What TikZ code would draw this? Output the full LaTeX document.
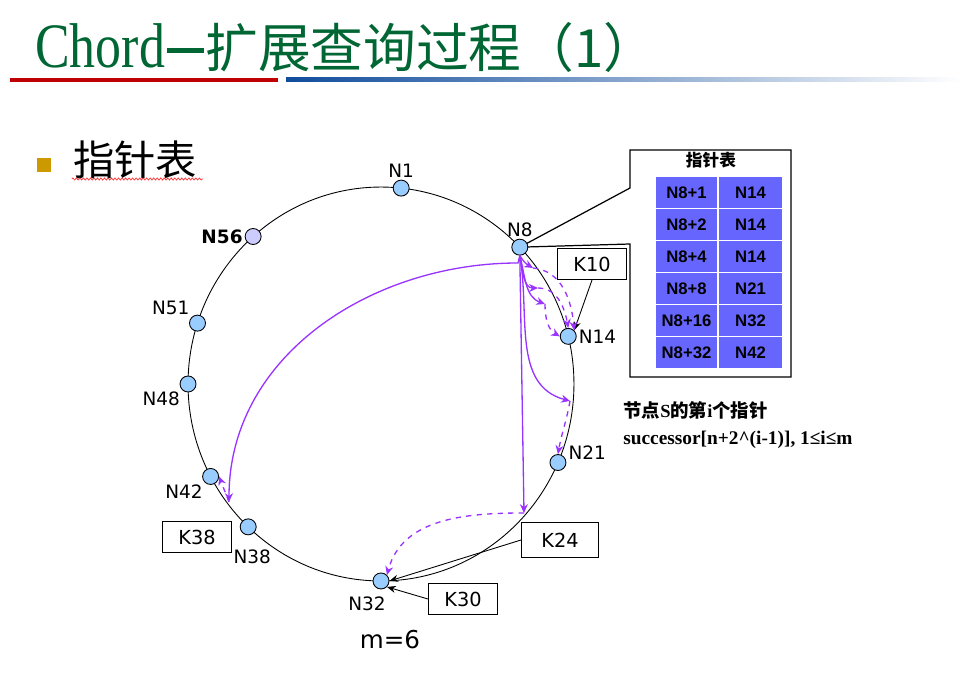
\documentclass[tikz,border=0pt]{standalone}
\usepackage{fontspec}
\usepackage{tikz}
\usetikzlibrary{arrows.meta,calc,backgrounds,decorations.pathmorphing}
\newfontfamily\cjk{Noto Sans CJK SC}
\newfontfamily\lblfont{DejaVu Sans}
\newfontfamily\tblfont{Liberation Sans}
\newfontfamily\serfont{Liberation Serif}
\definecolor{titlegreen}{RGB}{0,102,51}
\definecolor{linered}{RGB}{192,0,0}
\definecolor{lineblue}{RGB}{16,76,156}
\definecolor{bulletgold}{RGB}{204,153,0}
\definecolor{peerblue}{RGB}{153,204,255}
\definecolor{peerlilac}{RGB}{204,204,255}
\definecolor{ptrpurple}{RGB}{153,51,255}
\definecolor{cellblue}{RGB}{102,102,255}
\tikzset{
  peer/.style={circle,draw,fill=peerblue,minimum size=0.32cm,inner sep=0pt,line width=0.5pt},
  lbl/.style={font=\lblfont\fontsize{10.5}{12}\selectfont,inner sep=1pt},
  keybox/.style={draw,line width=0.6pt,minimum width=1.38cm,minimum height=0.62cm,font=\lblfont\fontsize{11}{13}\selectfont},
  ptr/.style={ptrpurple,line width=0.75pt,-{Stealth[length=5pt,width=4.5pt]}},
  keyarrow/.style={line width=0.5pt,-{Stealth[length=5pt,width=4pt]}},
  cell/.style={fill=cellblue,draw=white,line width=0.8pt,minimum height=0.64cm,font=\tblfont\bfseries\fontsize{9.5}{11}\selectfont},
}
\begin{document}
\begin{tikzpicture}[x=0.02cm,y=-0.02cm]
\useasboundingbox (0,0) rectangle (970,685);

% title and rules
\node[anchor=base west,inner sep=0pt,text=titlegreen] (title) at (35,68)
  {\serfont\fontsize{36}{40}\selectfont\scalebox{0.82}[1]{Chord}\hspace{1pt}\rule[8.5pt]{21pt}{3pt}\hspace{1pt}\cjk\fontsize{30}{34}\selectfont 扩展查询过程（1）};
\fill[linered] (10,78) rectangle (278,82);
\shade[left color=lineblue,right color=white] (286,78) rectangle (962,82);

\fill[bulletgold] (37,158) rectangle (51,172);
\node[anchor=west,inner sep=0pt] (head) at (73,160) {\cjk\fontsize{23.5}{26}\selectfont 指针表};
\draw[red!80,line width=0.4pt,decorate,decoration={zigzag,amplitude=0.6pt,segment length=2pt}] (72,179) -- (203,179);

% ring
\coordinate (c) at (381,384);
\draw[line width=0.5pt] (c) ellipse [x radius=3.86cm,y radius=3.94cm];

\node[peer,label={[lbl]above:N1}] (n1) at ($(c)+(84:3.86cm and 3.94cm)$) {};
\node[peer,label={[lbl]above:N8}] (n8) at ($(c)+(44:3.86cm and 3.94cm)$) {};
\node[peer,label={[lbl]right:N14}] (n14) at ($(c)+(14:3.86cm and 3.94cm)$) {};
\node[peer,label={[lbl,yshift=0.2cm]right:N21}] (n21) at ($(c)+(-23.5:3.86cm and 3.94cm)$) {};
\node[peer,label={[lbl,xshift=-0.28cm,yshift=-0.1cm]below:N32}] (n32) at ($(c)+(-90:3.86cm and 3.94cm)$) {};
\node[peer,label={[lbl,xshift=0.08cm,yshift=-0.24cm]below:N38}] (n38) at ($(c)+(-133.5:3.86cm and 3.94cm)$) {};
\node[peer,label={[lbl]below left:N42}] (n42) at ($(c)+(-152:3.86cm and 3.94cm)$) {};
\node[peer,label={[lbl]below left:N48}] (n48) at ($(c)+(180:3.86cm and 3.94cm)$) {};
\node[peer,label={[lbl]above left:N51}] (n51) at ($(c)+(162:3.86cm and 3.94cm)$) {};
\node[peer,fill=peerlilac,label={[lbl,font=\lblfont\bfseries\fontsize{10.5}{12}\selectfont]left:N56}] (n56) at ($(c)+(131.5:3.86cm and 3.94cm)$) {};

% keys
\node[keybox] (k10) at (592,264) {K10};
\node[keybox,minimum width=1.54cm,minimum height=0.7cm] (k24) at (560,540) {K24};
\node[keybox] (k30) at (463,599) {K30};
\node[keybox] (k38) at (197,537) {K38};
\draw[keyarrow] (k10.south) -- (n14.north east);
\draw[keyarrow] (k24.west) -- (n32.east);
\draw[keyarrow] (k30.west) -- (n32.south east);

% finger table
\begin{scope}[on background layer]
\fill[white] (0,0) rectangle (970,685);
\draw[line width=0.7pt] (630,188) -- (630,150) -- (791,150) -- (791,377) -- (630,377) -- (630,244) -- (n8.center) -- cycle;
\end{scope}
\node (ftitle) at (711,160) {\cjk\bfseries\fontsize{9.5}{11}\selectfont 指针表};
\foreach \a/\b [count=\i] in {N8+1/N14,N8+2/N14,N8+4/N14,N8+8/N21,N8+16/N32,N8+32/N42}{
  \node[cell,minimum width=1.26cm] (s\i) at (686.5,{160.5+32*\i}) {\a};
  \node[cell,minimum width=1.30cm] (t\i) at (750.5,{160.5+32*\i}) {\b};
}
\node[anchor=west,inner sep=0pt] (rule1) at (623,410)
  {\cjk\bfseries\fontsize{10.5}{12}\selectfont 节点{\serfont S}的第{\serfont i}个指针};
\node[anchor=west,inner sep=0pt] (rule2) at (623,440)
  {\serfont\bfseries\fontsize{11}{13}\selectfont successor[n+2\textasciicircum(i-1)], 1≤i≤m};
\node (mval) at (390,640) {\lblfont\fontsize{14}{16}\selectfont m=6};

% lookup pointers
\coordinate (fork) at (518,263);
\coordinate (p9) at (533,268);
\coordinate (p10) at (538,288);
\coordinate (p12) at (545,304);
\coordinate (p16) at (570,401);
\coordinate (p24) at (524,513);
\coordinate (p40) at (229,502);
\draw[ptr] (n8.south) -- (fork) to[out=180,in=90] (p40);
\draw[ptr,dashed] (p40) -- (n42.east);
\draw[ptr] (n8.south) -- (p24);
\draw[ptr,dashed] (p24) to[out=180,in=75] (n32.north east);
\draw[ptr] (n8.south) to[out=-80,in=165] (p16);
\draw[ptr,dashed] (p16) to[out=-100,in=80] (n21.north);
\draw[ptr] (n8.south) to[out=-60,in=150] (p9);
\draw[ptr] (n8.south) to[out=-80,in=180] (p10);
\draw[ptr] (n8.south) to[out=-75,in=160] (p12);
\draw[ptr,dashed] (p9) to[out=-5,in=95] (n14.north east);
\draw[ptr,dashed] (p10) to[out=0,in=100] (n14.north);
\draw[ptr,dashed] (p12) to[out=-90,in=150] (n14.west);
\end{tikzpicture}
\end{document}
